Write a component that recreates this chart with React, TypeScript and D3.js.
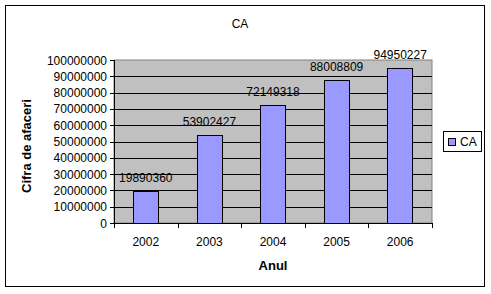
import React from "react";
import * as d3 from "d3";

const categories = ["2002", "2003", "2004", "2005", "2006"];
const values = [19890360, 53902427, 72149318, 88008809, 94950227];
const yTicks = [0, 10000000, 20000000, 30000000, 40000000, 50000000, 60000000, 70000000, 80000000, 90000000, 100000000];
const seriesName = "CA";
const title = "CA";
const xTitle = "Anul";
const yTitle = "Cifra de afaceri";

const FONT = "'Liberation Sans', Arial, sans-serif";

export default function App() {
  const W = 491, H = 294;
  const left = 114, right = 432, top = 60, bottom = 223;
  const x = d3.scaleBand<string>().domain(categories).range([left, right]).paddingInner(0).paddingOuter(0);
  const y = d3.scaleLinear().domain([0, 100000000]).range([bottom, top]);
  const bw = x.bandwidth() / 2.5;

  return (
    <svg width={W} height={H} style={{ position: "absolute", left: 0, top: 0, background: "#fff" }} fontFamily={FONT}>
      <rect x={0} y={0} width={W} height={H} fill="#fff" />
      <rect x={5.5} y={5.5} width={479} height={281} fill="#fff" stroke="#000" strokeWidth={1} />
      <text x={240} y={28} fontSize={12} textAnchor="middle">{title}</text>
      <rect x={left} y={top} width={right - left} height={bottom - top} fill="#C0C0C0" stroke="#808080" strokeWidth={1} />
      {yTicks.filter(t => t > 0 && t < 100000000).map(t => (
        <line key={"g" + t} x1={left} x2={right} y1={Math.round(y(t)) + 0.5} y2={Math.round(y(t)) + 0.5} stroke="#000" />
      ))}
      {categories.map((c, i) => {
        const cx = (x(c) as number) + x.bandwidth() / 2;
        const yv = y(values[i]);
        return (
          <g key={c}>
            <rect x={Math.round(cx - bw / 2) + 0.5} y={Math.round(yv) + 0.5} width={Math.round(bw)} height={bottom - Math.round(yv)} fill="#9999FF" stroke="#000" />
            <text x={cx} y={yv - 9} fontSize={12} textAnchor="middle">{values[i]}</text>
            <text x={cx} y={246} fontSize={12} textAnchor="middle">{c}</text>
          </g>
        );
      })}
      <line x1={left + 0.5} x2={left + 0.5} y1={top} y2={bottom + 0.5} stroke="#000" />
      <line x1={left} x2={right + 0.5} y1={bottom + 0.5} y2={bottom + 0.5} stroke="#000" />
      {yTicks.map(t => (
        <g key={"t" + t}>
          <line x1={left - 4} x2={left} y1={Math.round(y(t)) + 0.5} y2={Math.round(y(t)) + 0.5} stroke="#000" />
          <text x={left - 7} y={y(t) + 4.5} fontSize={12} textAnchor="end">{t}</text>
        </g>
      ))}
      {[...categories.map(c => x(c) as number), right].map((v, i) => (
        <line key={"xt" + i} x1={Math.round(v) + 0.5} x2={Math.round(v) + 0.5} y1={bottom} y2={bottom + 5} stroke="#000" />
      ))}
      <text x={(left + right) / 2} y={270} fontSize={13} fontWeight="bold" textAnchor="middle">{xTitle}</text>
      <text transform={`translate(31,146) rotate(-90)`} fontSize={13} fontWeight="bold" textAnchor="middle">{yTitle}</text>
      <rect x={443.5} y={131.5} width={38} height={20} fill="#fff" stroke="#000" />
      <rect x={448.5} y={138.5} width={7} height={7} fill="#9999FF" stroke="#000" />
      <text x={460} y={146} fontSize={12}>{seriesName}</text>
    </svg>
  );
}
